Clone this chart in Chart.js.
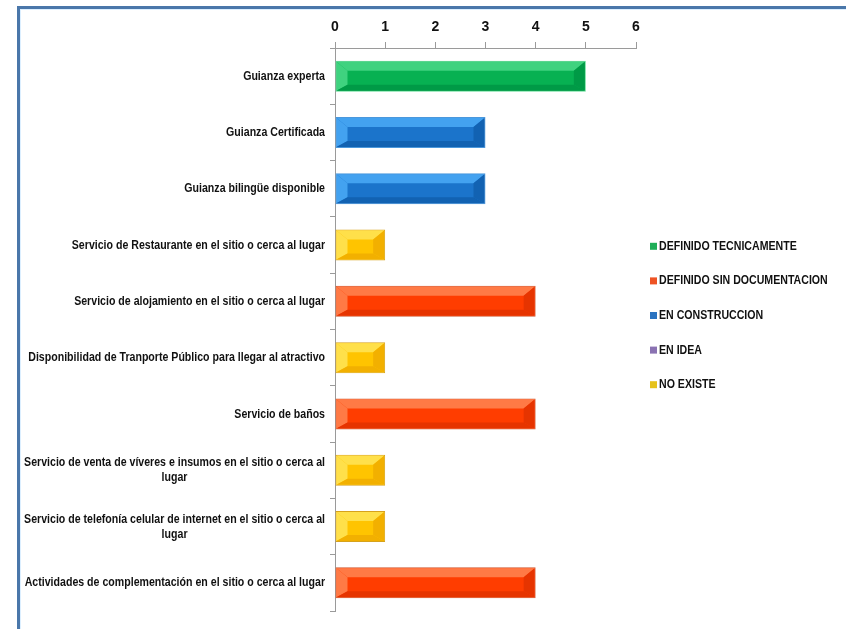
<!DOCTYPE html>
<html lang="es">
<head>
<meta charset="utf-8">
<title>Servicios del atractivo</title>
<script src="https://cdn.jsdelivr.net/npm/chart.js@4.4.1/dist/chart.umd.min.js"></script>
<style>
  html, body { margin: 0; padding: 0; background: #ffffff; overflow: hidden; }
  #wrap { position: relative; width: 846px; height: 629px; }
  #frame {
    position: absolute; left: 17px; top: 6px; width: 840px; height: 640px;
    border-top: 3px solid #4a77aa; border-left: 3px solid #4a77aa;
    box-shadow: inset 1px 1px 0 #dcefff;
    pointer-events: none; box-sizing: border-box;
  }
  canvas { position: absolute; left: 0; top: 0; }
</style>
</head>
<body>
<div id="wrap">
  <canvas id="chart" width="846" height="629"></canvas>
  <div id="frame"></div>
</div>
<script>
// Services offered at the site, with count and development status
const categories = [
  "Guianza experta",
  "Guianza Certificada",
  "Guianza bilingüe disponible",
  "Servicio de Restaurante en el sitio o cerca al lugar",
  "Servicio de alojamiento en el sitio o cerca al lugar",
  "Disponibilidad de Tranporte Público para llegar al atractivo",
  "Servicio de baños",
  ["Servicio de venta de víveres e insumos en el sitio o cerca al", "lugar"],
  ["Servicio de telefonía celular de internet en el sitio o cerca al", "lugar"],
  "Actividades de complementación en el sitio o cerca al lugar"
];
const values = [5, 3, 3, 1, 4, 1, 4, 1, 1, 4];
const statusOfItem = [0, 2, 2, 4, 1, 4, 1, 4, 4, 1];
const statusNames = [
  "DEFINIDO TECNICAMENTE",
  "DEFINIDO SIN DOCUMENTACION",
  "EN CONSTRUCCION",
  "EN IDEA",
  "NO EXISTE"
];
const xTicks = [0, 1, 2, 3, 4, 5, 6];

// Palette per status: main fill, light bevel, dark bevel, edge, legend key
const palette = [
  { main: "#07b152", light: "#3fd27f", dark: "#009a46", edge: "#5fdc93", key: "#1fae58" },
  { main: "#ff3d00", light: "#ff7a45", dark: "#e63400", edge: "#d0582e", key: "#ee5324" },
  { main: "#1b74cb", light: "#43a2f0", dark: "#1262b2", edge: "#4b98dc", key: "#2a73c0" },
  { main: "#8062a8", light: "#a58bc8", dark: "#6a4f90", edge: "#9a80c0", key: "#8a72b2" },
  { main: "#ffc400", light: "#ffe04a", dark: "#f2b000", edge: "#d6a21c", key: "#e6c21c" }
];

const FONT = "'Liberation Sans', Arial, sans-serif";
const TEXT_FONT = "bold 13px " + FONT;
const NARROW = 0.815;   // horizontal squeeze for the condensed lettering

const datasets = statusNames.map((name, s) => ({
  label: name,
  data: values.map((v, i) => (statusOfItem[i] === s ? v : null)),
  backgroundColor: palette[s].main,
  borderColor: palette[s].edge,
  borderWidth: 1,
  borderSkipped: false,
  barPercentage: 0.55,
  categoryPercentage: 1.0
}));

// Draw a line of condensed text with its anchor at (x, y)
function narrowText(ctx, text, x, y, align) {
  ctx.save();
  ctx.translate(x, y);
  ctx.scale(NARROW, 1);
  ctx.textAlign = align;
  ctx.fillText(text, 0, 0);
  ctx.restore();
}

// Bevelled face drawn over each bar, using the bar geometry from the chart
const bevelPlugin = {
  id: "bevel",
  afterDatasetsDraw(chart) {
    const ctx = chart.ctx;
    chart.data.datasets.forEach((ds, s) => {
      const meta = chart.getDatasetMeta(s);
      if (meta.hidden) return;
      const c = palette[s];
      meta.data.forEach((bar, i) => {
        if (ds.data[i] == null) return;
        const p = bar.getProps(["x", "y", "base", "height"], true);
        const L = Math.min(p.base, p.x) + 1, R = Math.max(p.base, p.x) - 1;
        const T = p.y - p.height / 2 + 1, B = p.y + p.height / 2 - 1;
        const dx = Math.min(11, (R - L) / 3), dt = 9, db = 6;
        ctx.save();
        ctx.fillStyle = c.light;
        ctx.beginPath();
        ctx.moveTo(L, T); ctx.lineTo(R, T); ctx.lineTo(R - dx, T + dt); ctx.lineTo(L + dx, T + dt);
        ctx.closePath(); ctx.fill();
        ctx.beginPath();
        ctx.moveTo(L, T); ctx.lineTo(L + dx, T + dt); ctx.lineTo(L + dx, B - db); ctx.lineTo(L, B);
        ctx.closePath(); ctx.fill();
        ctx.fillStyle = c.dark;
        ctx.beginPath();
        ctx.moveTo(L, B); ctx.lineTo(R, B); ctx.lineTo(R - dx, B - db); ctx.lineTo(L + dx, B - db);
        ctx.closePath(); ctx.fill();
        ctx.beginPath();
        ctx.moveTo(R, T); ctx.lineTo(R - dx, T + dt); ctx.lineTo(R - dx, B - db); ctx.lineTo(R, B);
        ctx.closePath(); ctx.fill();
        ctx.restore();
      });
    });
  }
};

// Category labels: wrapped lines centred on the widest line, right edge near the axis
const categoryLabelPlugin = {
  id: "categoryLabels",
  afterDraw(chart) {
    const y = chart.scales.y;
    const ctx = chart.ctx;
    const right = y.right - 10;
    const lineH = 15;
    ctx.save();
    ctx.font = TEXT_FONT;
    ctx.fillStyle = "#111111";
    ctx.textBaseline = "middle";
    categories.forEach((lab, i) => {
      const lines = Array.isArray(lab) ? lab : [lab];
      const w = Math.max(...lines.map(l => ctx.measureText(l).width)) * NARROW;
      const cx = right - w / 2;
      const cy = y.getPixelForTick(i);
      const y0 = cy - (lines.length - 1) * lineH / 2;
      lines.forEach((l, k) => narrowText(ctx, l, cx, y0 + k * lineH, "center"));
    });
    ctx.restore();
  }
};

// Status key to the right of the plot
const statusKeyPlugin = {
  id: "statusKey",
  afterDraw(chart) {
    const a = chart.chartArea;
    const ctx = chart.ctx;
    const step = 34.6;
    const x0 = a.right + 14;
    const yMid = (a.top + a.bottom) / 2 - 14;
    const y0 = yMid - step * (statusNames.length - 1) / 2;
    ctx.save();
    ctx.font = TEXT_FONT;
    ctx.textBaseline = "middle";
    statusNames.forEach((n, s) => {
      const yy = y0 + s * step;
      ctx.fillStyle = palette[s].key;
      ctx.fillRect(x0, yy - 3.5, 7, 7);
      ctx.fillStyle = "#111111";
      narrowText(ctx, n, x0 + 9, yy, "left");
    });
    ctx.restore();
  }
};

new Chart(document.getElementById("chart"), {
  type: "bar",
  data: { labels: categories, datasets },
  options: {
    indexAxis: "y",
    responsive: false,
    animation: false,
    devicePixelRatio: 1,
    layout: { padding: { left: 0, top: 0, bottom: 18, right: 210 } },
    scales: {
      x: {
        position: "top",
        stacked: true,
        min: xTicks[0],
        max: xTicks[xTicks.length - 1],
        afterBuildTicks(scale) { scale.ticks = xTicks.map(v => ({ value: v })); },
        afterFit(scale) { scale.height = 48; },
        grid: { drawOnChartArea: false, drawTicks: true, tickLength: 6, color: "#9a9a9a" },
        border: { color: "#9a9a9a", width: 1 },
        ticks: {
          color: "#111111",
          padding: 6,
          font: { family: FONT, size: 14, weight: "bold" }
        }
      },
      y: {
        stacked: true,
        afterFit(scale) { scale.width = 335; },
        grid: { drawOnChartArea: false, drawTicks: true, tickLength: 5, color: "#9a9a9a", offset: true },
        border: { color: "#9a9a9a", width: 1 },
        ticks: { display: false }
      }
    },
    plugins: {
      tooltip: { enabled: false },
      legend: { display: false }
    }
  },
  plugins: [bevelPlugin, categoryLabelPlugin, statusKeyPlugin]
});
</script>
</body>
</html>
